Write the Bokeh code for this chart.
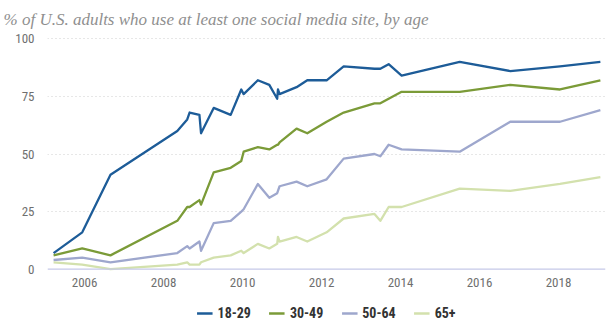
import pandas as pd
from bokeh.plotting import figure
from bokeh.layouts import column
from bokeh.models import FixedTicker, Legend, LegendItem, Span
from bokeh.embed import file_html
from bokeh.resources import INLINE

dates = ["2005-03-20", "2005-12-10", "2006-08-28", "2008-05-07", "2008-08-07",
         "2008-08-29", "2008-11-28", "2008-12-13", "2009-04-09", "2009-09-13",
         "2009-12-20", "2010-01-11", "2010-05-22", "2010-09-05", "2010-11-17",
         "2010-11-24", "2010-12-09", "2011-05-15", "2011-08-22", "2012-02-17",
         "2012-07-24", "2013-05-05", "2013-06-28", "2013-09-13", "2014-01-11",
         "2015-07-02", "2016-10-12", "2018-01-15", "2019-01-23"]

age_18_29 = [7, 16, 41, 60, 65, 68, 67, 59, 70, 67, 78, 76, 82, 80, 74, 78, 76, 79, 82, 82,
             88, 87, 87, 89, 84, 90, 86, 88, 90]
age_30_49 = [6, 9, 6, 21, 27, 27, 30, 28, 42, 44, 47, 51, 53, 52, 54, 54, 55, 61, 59, 64,
             68, 72, 72, 74, 77, 77, 80, 78, 82]
age_50_64 = [4, 5, 3, 7, 10, 9, 12, 8, 20, 21, 25, 26, 37, 31, 33, 34, 36, 38, 36, 39,
             48, 50, 49, 54, 52, 51, 64, 64, 69]
age_65_plus = [3, 2, 0, 2, 3, 2, 2, 3, 5, 6, 8, 7, 11, 9, 11, 14, 12, 14, 12, 16,
               22, 24, 21, 27, 27, 35, 34, 37, 40]

series_names = ["18-29", "30-49", "50-64", "65+"]
series_colors = ["#1d5c98", "#7b9b38", "#9ea7cd", "#d3e1ad"]
year_ticks = [2006, 2008, 2010, 2012, 2014, 2016, 2018]
value_ticks = [0, 25, 50, 75, 100]

FONT = "Liberation Sans Narrow, Roboto Condensed, Liberation Sans"

dt = pd.to_datetime(dates)
xs = [d.year + (d.dayofyear - 1) / (366 if d.is_leap_year else 365) for d in dt]

p = figure(width=613, height=295, output_backend="svg", toolbar_location=None,
           x_range=(2005.06, 2019.19), y_range=(-1, 101),
           min_border_left=47, min_border_right=8, min_border_top=4, min_border_bottom=24)

p.title.text = "% of U.S. adults who use at least one social media site, by age"
p.title.text_font = "Liberation Serif"
p.title.text_font_style = "italic"
p.title.text_font_size = "17px"
p.title.text_color = "#8f8f8f"
p.title.offset = -44
p.title.standoff = 15

p.outline_line_color = None
p.background_fill_color = "white"
p.border_fill_color = "white"

p.xgrid.grid_line_color = None
p.ygrid.ticker = FixedTicker(ticks=[25, 50, 75, 100])
p.ygrid.grid_line_color = "#cfcfcf"
p.ygrid.grid_line_dash = "1 3"
p.ygrid.grid_line_width = 1

for ax in (p.xaxis[0], p.yaxis[0]):
    ax.axis_line_color = None
    ax.major_tick_line_color = None
    ax.minor_tick_line_color = None
    ax.major_tick_out = 0
    ax.major_tick_in = 0
    ax.minor_tick_out = 0
    ax.minor_tick_in = 0
    ax.major_label_text_font = FONT
    ax.major_label_text_font_size = "13px"
    ax.major_label_text_color = "#6f6f6f"

p.xaxis.ticker = FixedTicker(ticks=year_ticks)
p.xaxis.major_label_standoff = 6
p.yaxis.ticker = FixedTicker(ticks=value_ticks)
p.yaxis.major_label_standoff = 13

p.add_layout(Span(location=0, dimension="width", line_color="#c6c9e8", line_width=1.2))

for name, vals, col in zip(series_names, [age_18_29, age_30_49, age_50_64, age_65_plus], series_colors):
    p.line(xs, vals, line_color=col, line_width=2.3, line_join="round")

# legend strip (lines drawn outside the visible range, used only for legend keys)
lg = figure(width=613, height=36, output_backend="svg", toolbar_location=None,
            x_range=(0, 1), y_range=(0, 1), min_border=0)
lg.axis.visible = False
lg.grid.visible = False
lg.outline_line_color = None
items = []
for name, col in zip(series_names, series_colors):
    r = lg.line([-5, -4], [-5, -4], line_color=col, line_width=2.5)
    items.append(LegendItem(label=name, renderers=[r]))
legend = Legend(items=items, orientation="horizontal", location="center",
                glyph_width=16, glyph_height=14, label_standoff=5, spacing=18,
                padding=0, margin=0, border_line_color=None, background_fill_alpha=0,
                label_text_font=FONT, label_text_font_style="bold",
                label_text_font_size="14px", label_text_color="#333333")
lg.add_layout(legend, "center")

layout = column(p, lg, spacing=0)
open("out.html", "w").write(file_html(layout, INLINE))
